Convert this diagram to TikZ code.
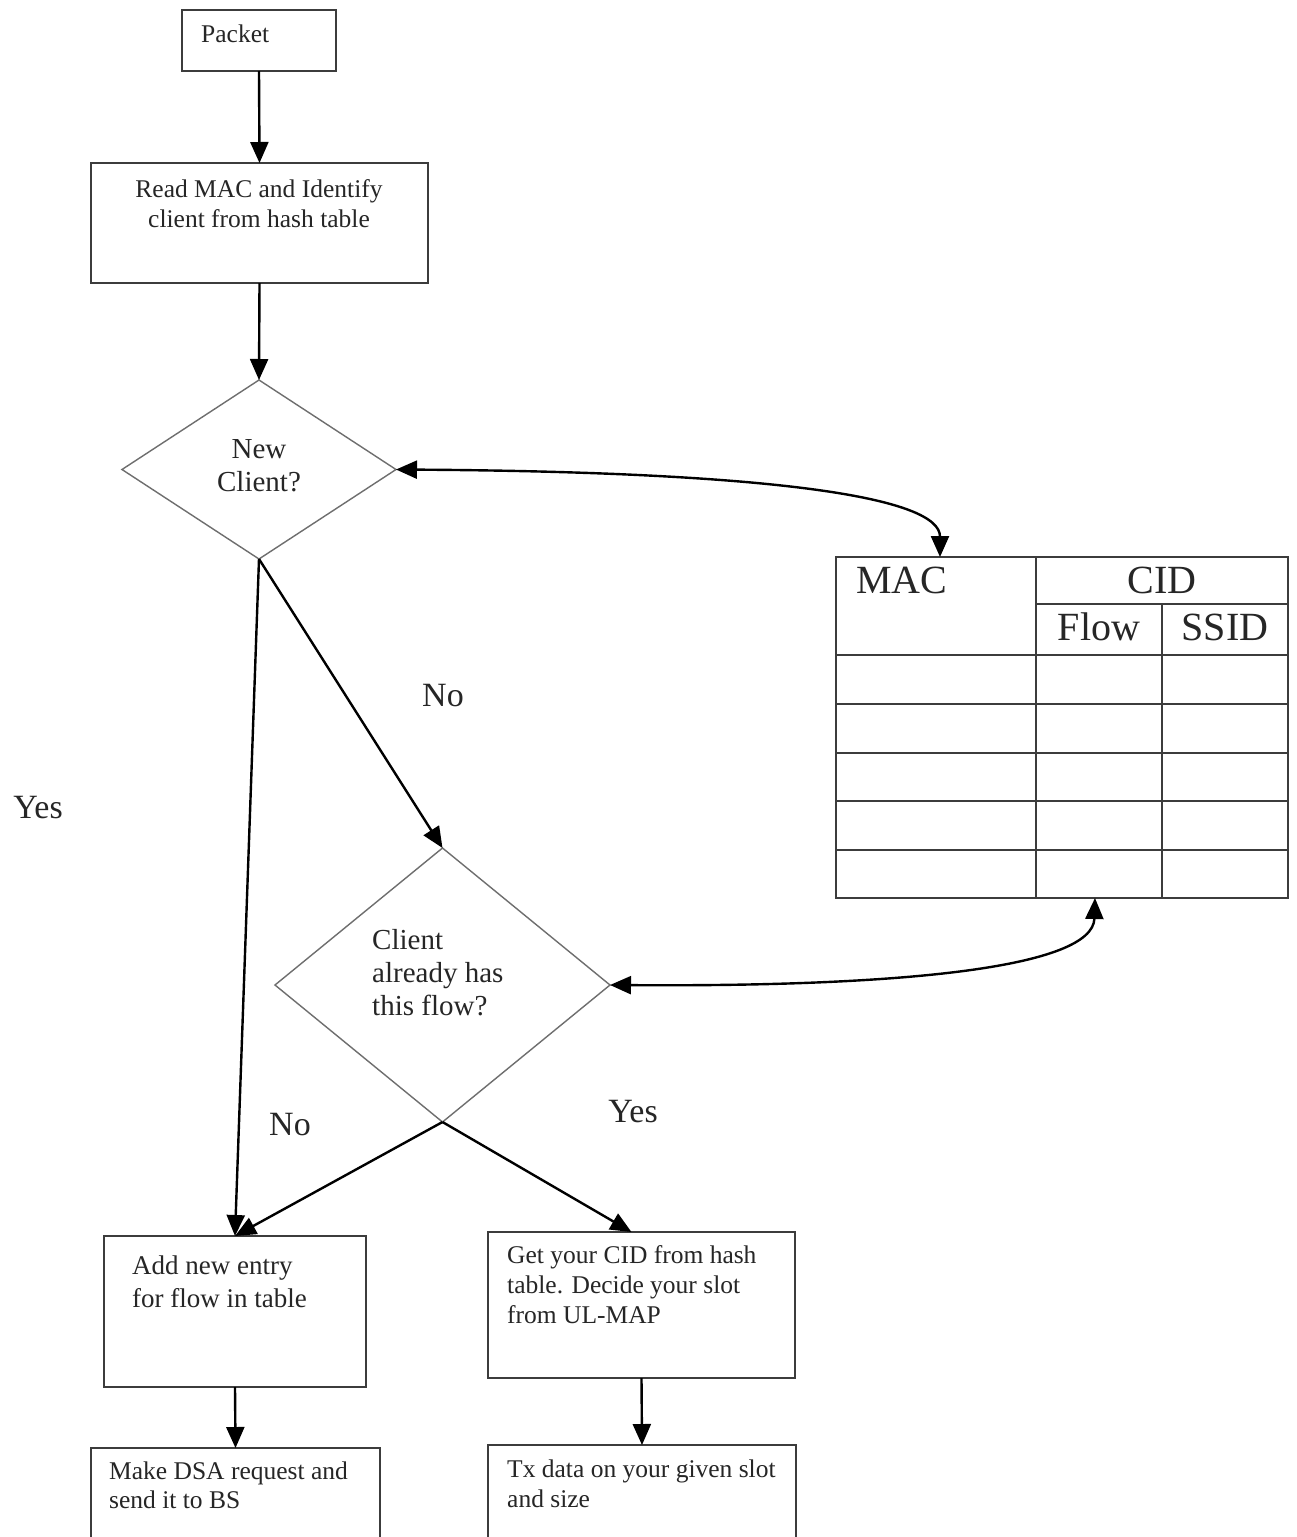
\documentclass[tikz,border=0pt]{standalone}
\usepackage{fontspec}
\setmainfont{Liberation Serif}
\usetikzlibrary{arrows.meta,shapes.geometric}
\definecolor{boxgray}{HTML}{3C3C3C}
\definecolor{dgray}{HTML}{6E6E6E}
\definecolor{ink}{HTML}{262626}
\begin{document}
\begin{tikzpicture}[x=1pt,y=-1pt,
  box/.style={draw=boxgray, line width=2pt, inner sep=0pt, outer sep=0pt, anchor=north west},
  decision/.style={diamond, draw=dgray, line width=1.4pt, inner sep=0pt, outer sep=0pt},
  txt/.style={text=ink, inner sep=0pt, align=left, font=\fontsize{25.5}{30}\selectfont},
  qtxt/.style={text=ink, inner sep=0pt, font=\fontsize{29}{33}\selectfont},
  lab/.style={text=ink, inner sep=0pt, font=\fontsize{34}{40}\selectfont},
  cell/.style={text=ink, inner sep=0pt, font=\fontsize{40}{46}\selectfont},
  grid/.style={draw=boxgray, line width=2pt},
  tip/.tip={Triangle[length=21pt,width=18pt]},
  flow/.style={draw=black, line width=2.4pt, -tip},
  both/.style={draw=black, line width=2.4pt, tip-tip}]

\useasboundingbox (0,0) rectangle (1297,1537);
\clip (0,0) rectangle (1297,1537);
\fill[white] (0,0) rectangle (1297,1537);

% process boxes
\node[box, minimum width=154pt, minimum height=61pt] (pkt) at (182,10) {};
\node[box, minimum width=337pt, minimum height=120pt] (read) at (91,163) {};
\node[box, minimum width=262pt, minimum height=151pt] (add) at (104,1236) {};
\node[box, minimum width=307pt, minimum height=146pt] (get) at (488,1232) {};
\node[box, minimum width=289pt, minimum height=130pt] (dsa) at (91,1448) {};
\node[box, minimum width=308pt, minimum height=130pt] (tx) at (488,1445) {};

% decisions
\node[decision, minimum width=274pt, minimum height=179pt] (d1) at (259,469.5) {};
\node[decision, minimum width=335pt, minimum height=274pt] (d2) at (442.5,985) {};

% texts of boxes and decisions (base anchor = baseline of the last line)
\node[txt, anchor=base west] (tpkt) at (201,42) {Packet};
\node[txt, align=center, anchor=base] (tread) at (259,227) {Read MAC and Identify\\client from hash table};
\node[qtxt, align=center, anchor=base] (td1) at (259,491) {New\\Client?};
\node[qtxt, align=left, anchor=base west] (td2) at (372,1015) {Client\\already has\\this flow?};
\node[txt, anchor=base west, font=\fontsize{27}{33}\selectfont] (tadd) at (132,1307) {Add new entry\\for flow in table};
\node[txt, anchor=base west] (tget) at (507,1323) {Get your CID from hash\\table. Decide your slot\\from UL-MAP};
\node[txt, anchor=base west, font=\fontsize{25.5}{28.5}\selectfont] (tdsa) at (109,1508) {Make DSA request and\\send it to BS};
\node[txt, anchor=base west] (ttx) at (507,1507) {Tx data on your given slot\\and size};

% hash table
\node[box, minimum width=452pt, minimum height=341pt] (tbl) at (836,557) {};
\draw[grid] (1036,557) -- (1036,898);
\draw[grid] (1162,604) -- (1162,898);
\draw[grid] (1036,604) -- (1288,604);
\foreach \yy in {655,704,753,801,850}
  \draw[grid] (836,\yy) -- (1288,\yy);
\node[cell, anchor=base west] (hmac) at (856,593) {MAC};
\node[cell, anchor=base] (hcid) at (1162,593) {CID};
\node[cell, anchor=base] (hflow) at (1099,640) {Flow};
\node[cell, anchor=base] (hssid) at (1225,640) {SSID};

% branch labels
\node[lab] (lno1) at (443,696) {No};
\node[lab] (lyes1) at (38,808) {Yes};
\node[lab] (lno2) at (290,1125) {No};
\node[lab] (lyes2) at (633,1112) {Yes};

% connectors
\draw[flow] (pkt.south) -- (read.north);
\draw[flow] (read.south) -- (d1.north);
\draw[flow] (d1.south) -- (d2.north);
\draw[flow] (d1.south) -- (add.north);
\draw[flow] (d2.south) -- (add.north);
\draw[flow] (d2.south) -- ([xshift=-10pt]get.north);
\draw[flow] (add.south) -- (dsa.north);
\draw[flow] (get.south) -- (tx.north);
\draw[both] (d1.east) .. controls (780,472) and (940,498) .. ([xshift=104pt]tbl.north west);
\draw[both] (d2.east) .. controls (900,987) and (1093,968) .. ([xshift=259pt]tbl.south west);
\end{tikzpicture}
\end{document}
